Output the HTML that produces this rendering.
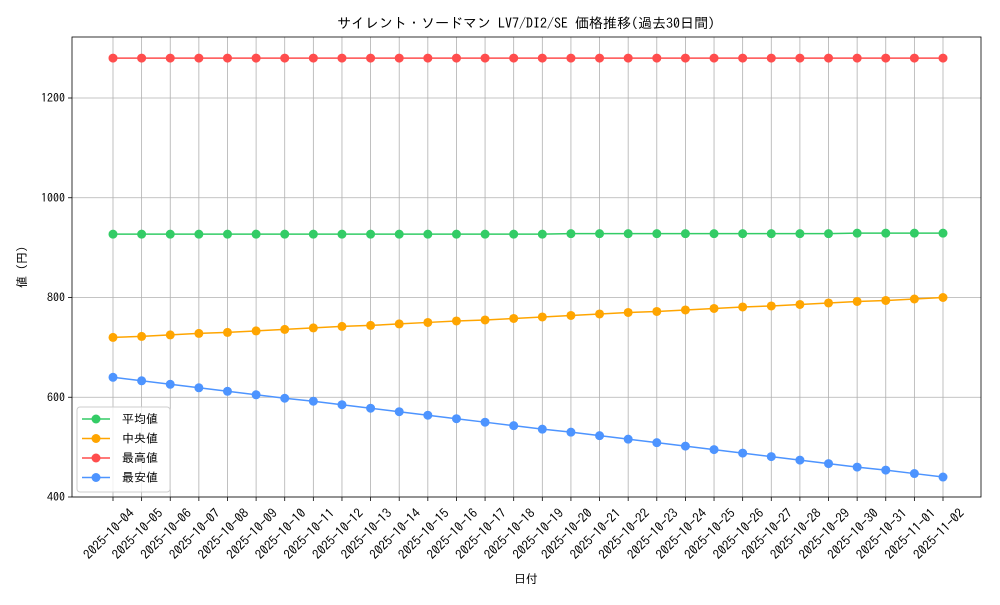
<!DOCTYPE html>
<html><head><meta charset="utf-8"><style>
body{margin:0;background:#fff}
svg{font-family:"IPAGothic","Noto Sans CJK JP",sans-serif}
</style></head><body>
<svg id="c" width="1000" height="600"></svg>
<script>
const dates=["2025-10-04","2025-10-05","2025-10-06","2025-10-07","2025-10-08","2025-10-09","2025-10-10","2025-10-11","2025-10-12","2025-10-13","2025-10-14","2025-10-15","2025-10-16","2025-10-17","2025-10-18","2025-10-19","2025-10-20","2025-10-21","2025-10-22","2025-10-23","2025-10-24","2025-10-25","2025-10-26","2025-10-27","2025-10-28","2025-10-29","2025-10-30","2025-10-31","2025-11-01","2025-11-02"];
const avgVals=[927,927,927,927,927,927,927,927,927,927,927,927,927,927,927,927,928,928,928,928,928,928,928,928,928,928,929,929,929,929];
const medVals=[720,722,725,728,730,733,736,739,742,744,747,750,753,755,758,761,764,767,770,772,775,778,781,783,786,789,792,794,797,800];
const maxVals=Array(30).fill(1280);
const minVals=[640,633,626,619,612,605,598,592,585,578,571,564,557,550,543,536,530,523,516,509,502,495,488,481,474,467,460,454,447,440];
const yTicks=[400,600,800,1000,1200];
const series=[["平均値",avgVals,"#33cc66","avg"],["中央値",medVals,"#ffa500","median"],["最高値",maxVals,"#ff4d4d","max"],["最安値",minVals,"#4d94ff","min"]];
const L=72,R=981,T=37,B=497;
const x=i=>113+i*(943-113)/(dates.length-1);
const y=v=>497-(v-400)*(399/800);
const NS="http://www.w3.org/2000/svg",svg=document.getElementById("c");
function mk(t,a,p){const e=document.createElementNS(NS,t);for(const k in a)e.setAttribute(k,a[k]);(p||svg).appendChild(e);return e;}
dates.forEach((d,i)=>{
 const g=mk("line",{x1:x(i),x2:x(i),y1:T,y2:B,stroke:"#b0b0b0","stroke-width":0.8});
 
 
 mk("line",{x1:x(i),x2:x(i),y1:B,y2:B+4,stroke:"#000","stroke-width":0.8});
 const ax=x(i)+22,ay=B+17;
 const t=mk("text",{x:ax,y:ay,"font-size":13,"text-anchor":"end",transform:`rotate(-45 ${ax} ${ay})`});
 t.textContent=d;
 
 
});
yTicks.forEach(v=>{
 const g=mk("line",{x1:L,x2:R,y1:y(v),y2:y(v),stroke:"#b0b0b0","stroke-width":0.8});
 
 
 mk("line",{x1:L-4,x2:L,y1:y(v),y2:y(v),stroke:"#000","stroke-width":0.8});
 const t=mk("text",{x:L-7,y:y(v)+4,"font-size":12,"text-anchor":"end"});
 t.textContent=v;
 
 
});
series.forEach(([name,vals,col,key])=>{
 const p=mk("polyline",{points:vals.map((v,i)=>x(i)+","+y(v)).join(" "),fill:"none",stroke:col,"stroke-width":1.5});
 
 
 vals.forEach((v,i)=>{
  const c=mk("circle",{cx:x(i),cy:y(v),r:4.5,fill:col});
  
  
 });
});
const fr=mk("rect",{x:L,y:T,width:R-L,height:B-T,fill:"none",stroke:"#000","stroke-width":0.8});


const lg=mk("g",{});


mk("rect",{x:77,y:407,width:93,height:85,fill:"#fff","fill-opacity":0.8,stroke:"#ccc",rx:3},lg);
series.forEach(([name,vals,col,key],k)=>{
 const yy=419+k*19.5;
 const e=mk("g",{},lg);
 
 
 mk("line",{x1:82,x2:110,y1:yy,y2:yy,stroke:col,"stroke-width":1.5},e);
 mk("circle",{cx:96,cy:yy,r:4.5,fill:col},e);
 const t=mk("text",{x:122,y:yy+4,"font-size":12},e);t.textContent=name;
});
const tt=mk("text",{x:526,y:28,"font-size":14,"text-anchor":"middle"});
tt.textContent="サイレント・ソードマン LV7/DI2/SE 価格推移(過去30日間)";

const xt=mk("text",{x:526,y:583,"font-size":12,"text-anchor":"middle"});
xt.textContent="日付";

const yt=mk("text",{x:26,y:267,"font-size":12,"text-anchor":"middle",transform:"rotate(-90 26 267)"});
yt.textContent="値 (円)";

</script>
</body></html>
